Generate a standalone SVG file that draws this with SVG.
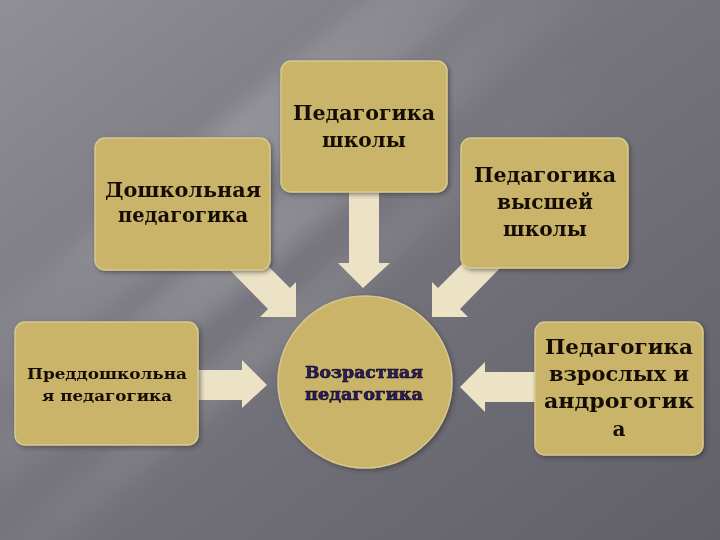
<svg xmlns="http://www.w3.org/2000/svg" width="720" height="540" viewBox="0 0 720 540">
  <defs>
    <linearGradient id="bg" x1="0" y1="0" x2="1" y2="1">
      <stop offset="0" stop-color="#908f96"/>
      <stop offset="0.45" stop-color="#76757d"/>
      <stop offset="1" stop-color="#616068"/>
    </linearGradient>
    <linearGradient id="streak" x1="0" y1="0" x2="1" y2="0">
      <stop offset="0" stop-color="#ffffff" stop-opacity="0"/>
      <stop offset="0.5" stop-color="#ffffff" stop-opacity="0.16"/>
      <stop offset="1" stop-color="#ffffff" stop-opacity="0"/>
    </linearGradient>
    <filter id="blur" x="-20%" y="-20%" width="140%" height="140%">
      <feGaussianBlur stdDeviation="10"/>
    </filter>
    <filter id="sh" x="-10%" y="-10%" width="130%" height="130%">
      <feDropShadow dx="2" dy="2" stdDeviation="2" flood-color="#2a2a30" flood-opacity="0.5"/>
    </filter>
    <style>
      .box { fill: #c9b46a; stroke: #d8c88c; stroke-width: 1.5; }
      .arrow { fill: #ece2c6; }
      .t { font-family: "DejaVu Serif", "Liberation Serif", serif; font-weight: bold; fill: #140f06; text-anchor: middle; }
      .big { font-size: 20px; }
      .small { font-size: 15px; }
      .center { font-family: "DejaVu Serif", "Liberation Serif", serif; font-size: 16px; font-weight: bold; fill: #2c1b5e; stroke: #0e0820; stroke-width: 0.6; text-anchor: middle; }
    </style>
  </defs>

  <!-- background -->
  <rect x="0" y="0" width="720" height="540" fill="url(#bg)"/>
  <g filter="url(#blur)">
    <rect x="-200" y="110" width="900" height="70" fill="url(#streak)" transform="rotate(-40 250 150)"/>
    <rect x="-200" y="225" width="900" height="50" fill="url(#streak)" transform="rotate(-40 250 250)"/>
    <rect x="-200" y="335" width="900" height="40" fill="url(#streak)" transform="rotate(-40 250 350)" opacity="0.7"/>
  </g>

  <!-- connectors -->
  <g id="connectors">
    <polygon class="arrow" points="349,188 379,188 379,263 390,263 363,288 338,263 349,263"/>
    <polygon class="arrow" points="222,262 255,253 290,288 296,282 296,317 260,317 268,309"/>
    <polygon class="arrow" points="506,262 473,253 438,288 432,282 432,317 468,317 460,309"/>
    <polygon class="arrow" points="196,370 242,370 242,360 267,385 242,408 242,400 196,400"/>
    <polygon class="arrow" points="537,372 485,372 485,362 460,387 485,412 485,402 537,402"/>
  </g>

  <g id="node-school" filter="url(#sh)">
    <rect class="box" x="281" y="61" width="166" height="131" rx="10"/>
    <text class="t big" x="364" y="120" textLength="142" lengthAdjust="spacingAndGlyphs">Педагогика</text>
    <text class="t big" x="364" y="147" textLength="84" lengthAdjust="spacingAndGlyphs">школы</text>
  </g>

  <g id="node-preschool" filter="url(#sh)">
    <rect class="box" x="95" y="138" width="175" height="132" rx="10"/>
    <text class="t big" x="183" y="197" textLength="156" lengthAdjust="spacingAndGlyphs">Дошкольная</text>
    <text class="t big" x="183" y="222" textLength="130" lengthAdjust="spacingAndGlyphs">педагогика</text>
  </g>

  <g id="node-higher" filter="url(#sh)">
    <rect class="box" x="461" y="138" width="167" height="130" rx="10"/>
    <text class="t big" x="545" y="182" textLength="142" lengthAdjust="spacingAndGlyphs">Педагогика</text>
    <text class="t big" x="545" y="209" textLength="96" lengthAdjust="spacingAndGlyphs">высшей</text>
    <text class="t big" x="545" y="236" textLength="84" lengthAdjust="spacingAndGlyphs">школы</text>
  </g>

  <g id="node-prepreschool" filter="url(#sh)">
    <rect class="box" x="15" y="322" width="183" height="123" rx="10"/>
    <text class="t small" x="107" y="379" textLength="160" lengthAdjust="spacingAndGlyphs">Преддошкольна</text>
    <text class="t small" x="107" y="401" textLength="130" lengthAdjust="spacingAndGlyphs">я педагогика</text>
  </g>

  <g id="node-adult" filter="url(#sh)">
    <rect class="box" x="535" y="322" width="168" height="133" rx="10"/>
    <text class="t big" x="619" y="354" textLength="148" lengthAdjust="spacingAndGlyphs">Педагогика</text>
    <text class="t big" x="619" y="381" textLength="140" lengthAdjust="spacingAndGlyphs">взрослых и</text>
    <text class="t big" x="619" y="408" textLength="150" lengthAdjust="spacingAndGlyphs">андрогогик</text>
    <text class="t big" x="619" y="436">а</text>
  </g>

  <g id="node-age" filter="url(#sh)">
    <ellipse class="box" cx="365" cy="382" rx="87" ry="86"/>
    <text class="center" x="364" y="378" textLength="118" lengthAdjust="spacingAndGlyphs">Возрастная</text>
    <text class="center" x="364" y="400" textLength="118" lengthAdjust="spacingAndGlyphs">педагогика</text>
  </g>
</svg>
